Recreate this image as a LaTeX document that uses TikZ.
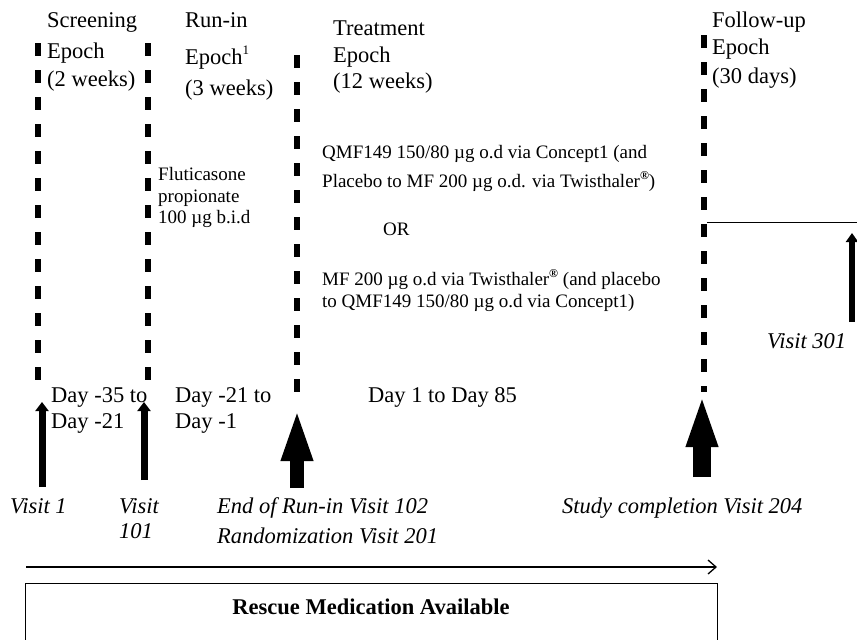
\documentclass[tikz,border=0pt]{standalone}
\usepackage{fontspec}
\setmainfont{Liberation Serif}
\usetikzlibrary{arrows.meta}
\begin{document}
\begin{tikzpicture}[x=1pt,y=-1pt,
  big/.style={font=\fontsize{22.5}{27}\selectfont, anchor=base west, inner sep=0pt},
  small/.style={font=\fontsize{19}{22}\selectfont, anchor=base west, inner sep=0pt},
  vis/.style={font=\fontsize{22.5}{27}\selectfont\itshape, anchor=base west, inner sep=0pt},
  epochline/.style={line width=6pt, dash pattern=on 13pt off 14pt},
  thinarrow/.style={line width=7pt, -{Triangle[length=9pt,width=13pt]}},
  bigarrow/.style={line width=#1, -{Triangle[length=54pt,width=28pt]}}
]
\useasboundingbox (0,0) rectangle (857,640);

% epoch boundaries
\coordinate (l1a) at (38,43);  \coordinate (l1b) at (38,392);
\coordinate (l2a) at (148,43); \coordinate (l2b) at (148,388);
\coordinate (l3a) at (297,55); \coordinate (l3b) at (297,400);
\coordinate (l4a) at (704,35); \coordinate (l4b) at (704,392);
\draw[epochline] (l1a) -- (l1b);
\draw[epochline] (l2a) -- (l2b);
\draw[epochline] (l3a) -- (l3b);
\draw[epochline] (l4a) -- (l4b);

% headers
\node[big] (scr1) at (47,27) {Screening};
\node[big] (scr2) at (47,58) {Epoch};
\node[big] (scr3) at (47,86) {(2 weeks)};
\node[big] (run1) at (185,27) {Run-in};
\node[big] (run2) at (185,64) {Epoch\raisebox{10pt}{\fontsize{13}{13}\selectfont 1}};
\node[big] (run3) at (185,95) {(3 weeks)};
\node[big] (trt1) at (333,35) {Treatment};
\node[big] (trt2) at (333,62) {Epoch};
\node[big] (trt3) at (333,88) {(12 weeks)};
\node[big] (fu1) at (712,27) {Follow-up};
\node[big] (fu2) at (712,54) {Epoch};
\node[big] (fu3) at (712,83) {(30 days)};

% treatments
\node[small] (flu1) at (158,180) {Fluticasone};
\node[small] (flu2) at (158,202) {propionate};
\node[small] (flu3) at (158,223) {100 µg b.i.d};
\node[small] (q1) at (322,158) {QMF149 150/80 µg o.d via Concept1 (and};
\node[small] (q2) at (322,187) {Placebo to MF 200 µg o.d. via Twisthaler\raisebox{8pt}{\fontsize{12}{12}\selectfont\bfseries ®})};
\node[small] (or) at (383,235) {OR};
\node[small] (m1) at (322,285) {MF 200 µg o.d via Twisthaler\raisebox{8pt}{\fontsize{12}{12}\selectfont\bfseries ®} (and placebo};
\node[small] (m2) at (322,307) {to QMF149 150/80 µg o.d via Concept1)};

% days
\node[big] (d1a) at (51,402) {Day -35 to};
\node[big] (d1b) at (51,428) {Day -21};
\node[big] (d2a) at (175,402) {Day -21 to};
\node[big] (d2b) at (175,428) {Day -1};
\node[big] (d3) at (368,402) {Day 1 to Day 85};

% visit arrows
\coordinate (v1t) at (42,487);  \coordinate (v1h) at (42,402);
\coordinate (v2t) at (144,480); \coordinate (v2h) at (144,402);
\coordinate (v3t) at (297,488); \coordinate (v3h) at (297,407);
\coordinate (v4t) at (702,477); \coordinate (v4h) at (702,393);
\coordinate (v5t) at (852,322); \coordinate (v5h) at (852,233);
\draw[thinarrow] (v1t) -- (v1h);
\draw[thinarrow] (v2t) -- (v2h);
\draw[bigarrow=14pt] (v3t) -- (v3h);
\draw[bigarrow=18pt] (v4t) -- (v4h);
\draw[line width=6pt, -{Triangle[length=9pt,width=12pt]}] (v5t) -- (v5h);

% follow-up line
\coordinate (fl1) at (707,222); \coordinate (fl2) at (857,222);
\draw[line width=0.9pt] (fl1) -- (fl2);

% visit labels
\node[vis] (vis1) at (10,513) {Visit 1};
\node[vis] (vis101a) at (119,513) {Visit};
\node[vis] (vis101b) at (119,538) {101};
\node[vis] (vis102) at (217,513) {End of Run-in Visit 102};
\node[vis] (vis201) at (217,543) {Randomization Visit 201};
\node[vis] (vis204) at (562,513) {Study completion Visit 204};
\node[vis] (vis301) at (767,348) {Visit 301};

% time arrow
\coordinate (ta) at (26,567); \coordinate (tm) at (563,567); \coordinate (tb) at (717,567);
\draw[line width=1.2pt] (ta) -- (tm);
\draw[line width=2.4pt, -{Straight Barb[length=8pt,width=14pt,line width=1.3pt]}] (tm) -- (tb);

% rescue box
\draw[line width=1pt] (25,660) |- (717,583) -- (717,660);
\node[font=\fontsize{22.5}{27}\selectfont\bfseries, anchor=base, inner sep=0pt] (resc) at (371,614) {Rescue Medication Available};
\end{tikzpicture}
\end{document}
